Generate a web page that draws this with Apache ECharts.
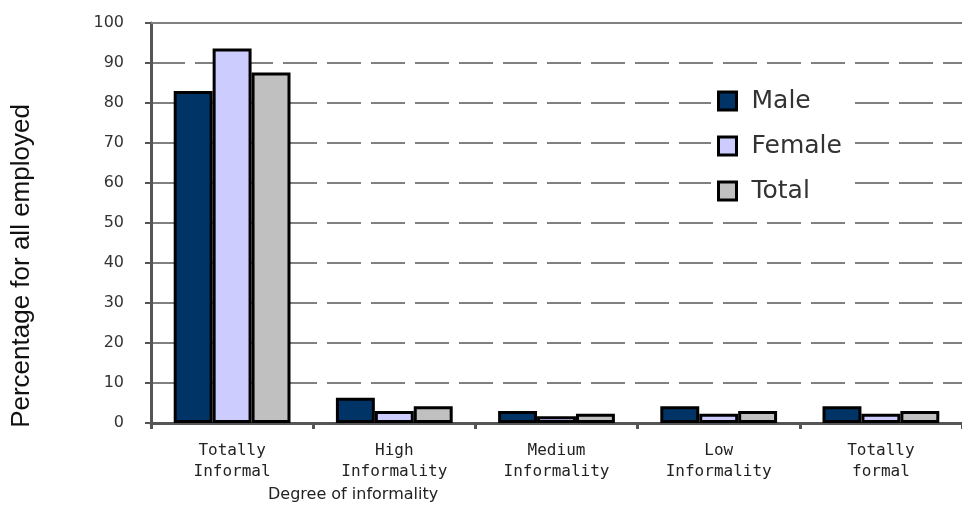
<!DOCTYPE html>
<html>
<head>
<meta charset="utf-8">
<script src="https://cdn.jsdelivr.net/npm/echarts@6/dist/echarts.min.js"></script>
<style>
  html, body { margin: 0; padding: 0; background: #ffffff; }
  #chart { width: 962px; height: 531px; }
</style>
</head>
<body>
<div id="chart"></div>
<script>
// Employment share by degree of informality, split by sex
const categories = [
  'Totally\nInformal',
  'High\nInformality',
  'Medium\nInformality',
  'Low\nInformality',
  'Totally\nformal'
];
const male   = [83, 6.3, 3.0, 4.2, 4.2];
const female = [93.6, 3.0, 1.7, 2.3, 2.3];
const total  = [87.6, 4.2, 2.3, 3.0, 3.0];
const yTicks = { min: 0, max: 100, step: 10 };

const chart = echarts.init(document.getElementById('chart'));

const barBase = {
  type: 'bar',
  barGap: '0%',
  barCategoryGap: '28%',
  itemStyle: { borderColor: '#000000', borderWidth: 3 }
};

chart.setOption({
  animation: false,
  backgroundColor: '#ffffff',
  grid: { left: 151, top: 23, width: 818, height: 400, containLabel: false },
  legend: {
    orient: 'vertical',
    left: 711,
    top: 82,
    icon: 'rect',
    itemWidth: 18,
    itemHeight: 18,
    itemGap: 19,
    padding: [6, 12, 6, 6],
    backgroundColor: '#ffffff',
    itemStyle: { borderColor: '#000000', borderWidth: 3 },
    textStyle: {
      fontFamily: 'DejaVu Sans',
      fontSize: 25,
      lineHeight: 26,
      color: '#333333',
      padding: [0, 0, 0, 10]
    },
    data: ['Male', 'Female', 'Total']
  },
  xAxis: [
    {
      type: 'category',
      data: categories,
      position: 'bottom',
      axisLine: { show: true, lineStyle: { color: '#555555', width: 3 } },
      axisTick: { show: true, alignWithLabel: false, length: 6, lineStyle: { color: '#555555', width: 3 } },
      axisLabel: {
        margin: 17,
        fontFamily: 'DejaVu Sans Mono',
        fontSize: 16,
        lineHeight: 21,
        color: '#222222'
      },
      splitLine: { show: false }
    },
    {
      type: 'category',
      data: categories,
      position: 'top',
      axisLine: { show: true, lineStyle: { color: '#808080', width: 2 } },
      axisTick: { show: false },
      axisLabel: { show: false }
    }
  ],
  yAxis: {
    type: 'value',
    min: yTicks.min,
    max: yTicks.max,
    interval: yTicks.step,
    axisLine: { show: true, lineStyle: { color: '#555555', width: 3 } },
    axisTick: { show: true, length: 6, lineStyle: { color: '#555555', width: 2 } },
    axisLabel: {
      margin: 27,
      fontFamily: 'DejaVu Sans',
      fontSize: 16,
      color: '#333333'
    },
    splitLine: {
      show: true,
      lineStyle: { color: '#808080', width: 2, type: [34, 10] }
    }
  },
  graphic: [
    {
      type: 'text',
      left: 268,
      top: 487,
      style: {
        text: 'Degree of informality',
        fontFamily: 'DejaVu Sans',
        fontSize: 16,
        fill: '#222222'
      }
    },
    {
      type: 'text',
      x: 22,
      y: 266,
      rotation: Math.PI / 2,
      style: {
        text: 'Percentage for all employed',
        fontFamily: 'Liberation Sans',
        fontSize: 26,
        fill: '#111111',
        align: 'center',
        verticalAlign: 'middle'
      }
    }
  ],
  series: [
    Object.assign({}, barBase, { name: 'Male', data: male, itemStyle: Object.assign({}, barBase.itemStyle, { color: '#003366' }) }),
    Object.assign({}, barBase, { name: 'Female', data: female, itemStyle: Object.assign({}, barBase.itemStyle, { color: '#CCCCFF' }) }),
    Object.assign({}, barBase, { name: 'Total', data: total, itemStyle: Object.assign({}, barBase.itemStyle, { color: '#C0C0C0' }) })
  ]
});
</script>
</body>
</html>
